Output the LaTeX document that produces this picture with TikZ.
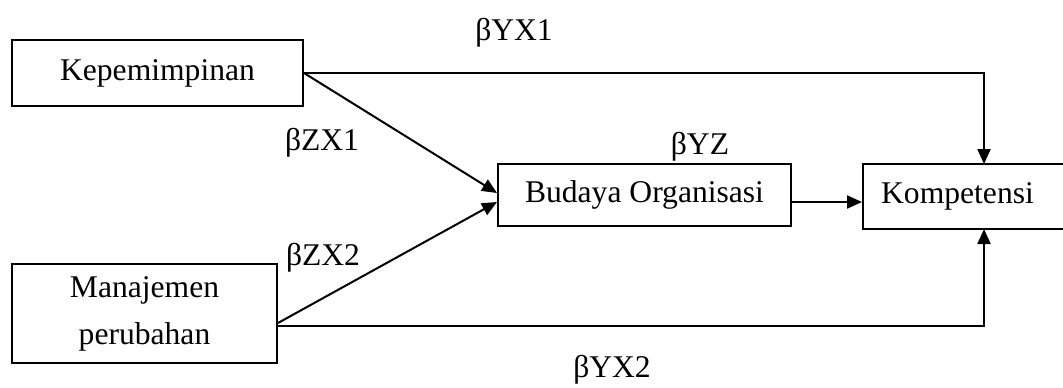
\documentclass[tikz,border=0pt]{standalone}
\usepackage{fontspec}
\setmainfont{Liberation Serif}
\usetikzlibrary{arrows.meta,calc}
\begin{document}
\begin{tikzpicture}[x=0.5pt,y=-0.5pt,
  box/.style={draw,line width=1pt,inner sep=0pt,align=center,font=\fontsize{15.8}{23.5}\selectfont},
  lbl/.style={inner sep=0pt,font=\fontsize{15.8}{19}\selectfont},
  arr/.style={line width=1pt,-{Triangle[length=7.5pt,width=6.5pt]}},
  ln/.style={line width=1pt}]
\useasboundingbox (0,0) rectangle (1063,387);
\node[box,minimum width=145.5pt,minimum height=33pt] (kep) at (157.5,73) {Kepemimpinan};
\node[box,minimum width=132.5pt,minimum height=49.5pt] (man) at (144.5,313.5) {Manajemen\\perubahan};
\node[box,minimum width=146.5pt,minimum height=31pt] (bud) at (644.5,195) {Budaya Organisasi};
\node[box,minimum width=106pt,minimum height=32.5pt] (kom) at (969,196.5) {Kompetensi\hspace*{11.5pt}};
\coordinate (kt) at (984,164);
\coordinate (kb) at (984,229);
\draw[arr] (kep.east) -| (kt);
\draw[arr] (kep.east) -- ($(bud.west)+(0,-2)$);
\draw[arr] ($(man.east)+(0,9.5)$) -- ($(bud.west)+(0,7)$);
\draw[arr] ($(man.east)+(0,12.5)$) -| (kb);
\draw[arr] ($(bud.east)+(0,7)$) -- ($(kom.west)+(0,5.5)$);
\node[lbl] (l1) at (514,33) {βYX1};
\node[lbl] (l2) at (322,143) {βZX1};
\node[lbl] (l3) at (323,258) {βZX2};
\node[lbl] (l4) at (700,147) {βYZ};
\node[lbl] (l5) at (612,370) {βYX2};
\end{tikzpicture}
\end{document}
